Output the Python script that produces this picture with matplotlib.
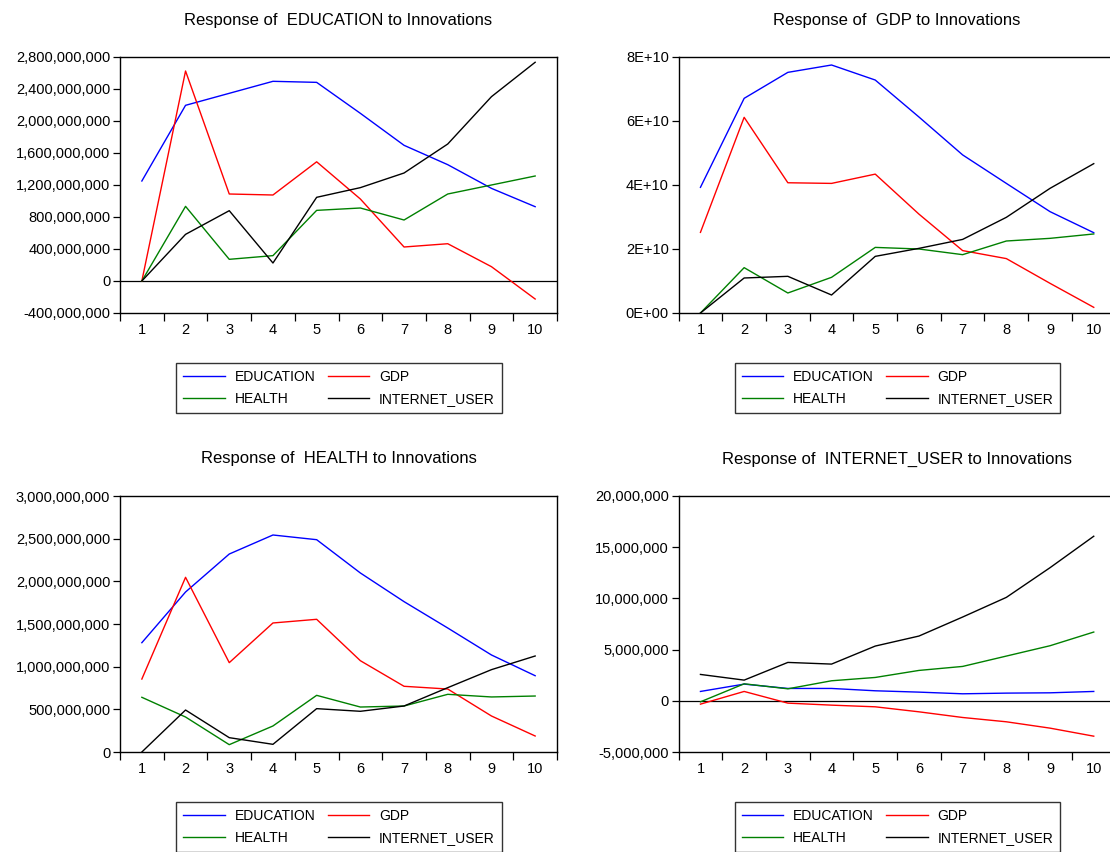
import matplotlib

matplotlib.use("Agg")
import matplotlib.pyplot as plt
from matplotlib.ticker import FixedLocator, FuncFormatter, MultipleLocator

plt.rcParams["font.family"] = ["Liberation Sans", "DejaVu Sans"]

periods = [1, 2, 3, 4, 5, 6, 7, 8, 9, 10]
shocks = ["EDUCATION", "GDP", "HEALTH", "INTERNET_USER"]

# Response of EDUCATION
edu_education = [1.25e9, 2.196e9, 2.346e9, 2.496e9, 2.483e9, 2.096e9, 1.696e9, 1.454e9, 1.158e9, 0.929e9]
edu_gdp = [0.0, 2.625e9, 1.0875e9, 1.075e9, 1.49e9, 1.025e9, 0.425e9, 0.466e9, 0.179e9, -0.225e9]
edu_health = [0.0, 0.933e9, 0.271e9, 0.317e9, 0.883e9, 0.9125e9, 0.7625e9, 1.0875e9, 1.2e9, 1.3125e9]
edu_internet = [0.0, 0.583e9, 0.879e9, 0.225e9, 1.046e9, 1.167e9, 1.35e9, 1.7125e9, 2.304e9, 2.734e9]

# Response of GDP
gdp_education = [3.927e10, 6.708e10, 7.52e10, 7.75e10, 7.28e10, 6.125e10, 4.94e10, 4.05e10, 3.167e10, 2.51e10]
gdp_gdp = [2.52e10, 6.115e10, 4.07e10, 4.05e10, 4.34e10, 3.09e10, 1.95e10, 1.70e10, 0.927e10, 0.177e10]
gdp_health = [0.0, 1.417e10, 0.625e10, 1.115e10, 2.05e10, 2.0e10, 1.823e10, 2.25e10, 2.333e10, 2.47e10]
gdp_internet = [0.0, 1.094e10, 1.146e10, 0.5625e10, 1.77e10, 2.02e10, 2.30e10, 2.99e10, 3.896e10, 4.667e10]

# Response of HEALTH
hea_education = [1.281e9, 1.875e9, 2.32e9, 2.543e9, 2.488e9, 2.098e9, 1.762e9, 1.453e9, 1.137e9, 0.894e9]
hea_gdp = [0.855e9, 2.047e9, 1.047e9, 1.512e9, 1.555e9, 1.07e9, 0.77e9, 0.738e9, 0.422e9, 0.1875e9]
hea_health = [0.641e9, 0.41e9, 0.086e9, 0.305e9, 0.664e9, 0.527e9, 0.539e9, 0.676e9, 0.645e9, 0.656e9]
hea_internet = [0.0, 0.492e9, 0.168e9, 0.09e9, 0.508e9, 0.477e9, 0.539e9, 0.754e9, 0.965e9, 1.125e9]

# Response of INTERNET_USER
int_education = [0.913e6, 1.63e6, 1.206e6, 1.206e6, 0.978e6, 0.847e6, 0.684e6, 0.75e6, 0.78e6, 0.913e6]
int_gdp = [-0.326e6, 0.913e6, -0.228e6, -0.424e6, -0.587e6, -1.076e6, -1.63e6, -2.05e6, -2.67e6, -3.455e6]
int_health = [-0.1e6, 1.66e6, 1.17e6, 1.956e6, 2.28e6, 2.966e6, 3.357e6, 4.368e6, 5.378e6, 6.714e6]
int_internet = [2.575e6, 2.02e6, 3.748e6, 3.585e6, 5.345e6, 6.323e6, 8.181e6, 10.1e6, 13.0e6, 16.07e6]

colors = ["#0000FF", "#FF0000", "#008000", "#000000"]

W, H = 1110, 852


def fx(px):
    return px / W


def fy(px):
    return 1 - px / H


comma = FuncFormatter(lambda v, _: f"{v:,.0f}")
sci = FuncFormatter(lambda v, _: "0E+00" if v == 0 else f"{v / 1e10:.0f}E+10")

panels = [
    # name, series, ylim, ystep, formatter, left px, top px, zero line
    ("EDUCATION", [edu_education, edu_gdp, edu_health, edu_internet],
     (-4e8, 2.8e9), 4e8, comma, 120, 57, True),
    ("GDP", [gdp_education, gdp_gdp, gdp_health, gdp_internet],
     (0, 8e10), 2e10, sci, 678.6, 57, False),
    ("HEALTH", [hea_education, hea_gdp, hea_health, hea_internet],
     (0, 3e9), 5e8, comma, 120, 496, False),
    ("INTERNET_USER", [int_education, int_gdp, int_health, int_internet],
     (-5e6, 2e7), 5e6, comma, 678.6, 496, True),
]

fig = plt.figure(figsize=(W / 100, H / 100), dpi=100)

ax_w, ax_h = 437, 256
for name, series, ylim, ystep, fmt, left, top, zero in panels:
    ax = fig.add_axes([fx(left), fy(top + ax_h), ax_w / W, ax_h / H])
    lines = []
    for vals, col in zip(series, colors):
        (ln,) = ax.plot(periods, vals, color=col, lw=1.0)
        lines.append(ln)
    if zero:
        ax.axhline(0, color="black", lw=0.9, zorder=0)

    ax.set_xlim(0.5, 10.5)
    ax.set_ylim(*ylim)
    ax.yaxis.set_major_locator(MultipleLocator(ystep))
    ax.yaxis.set_major_formatter(fmt)
    ax.xaxis.set_major_locator(FixedLocator(periods))
    ax.xaxis.set_minor_locator(FixedLocator([p - 0.5 for p in periods] + [10.5]))
    ax.tick_params(axis="x", which="major", length=0, pad=7, labelsize=10.5)
    ax.tick_params(axis="x", which="minor", length=6, width=0.9, direction="out")
    ax.tick_params(axis="y", length=5, width=0.9, direction="out", pad=2, labelsize=10.5)
    for sp in ax.spines.values():
        sp.set_linewidth(1.0)

    fig.text(fx(left + ax_w / 2), fy(top - 37), f"Response of  {name} to Innovations",
             ha="center", va="center", fontsize=12)

    # row 1: EDUCATION, GDP ; row 2: HEALTH, INTERNET_USER
    order = [0, 2, 1, 3]
    leg = fig.legend([lines[i] for i in order], [shocks[i] for i in order],
                     ncol=2, loc="upper center",
                     bbox_to_anchor=(fx(left + ax_w / 2 + 0.5), fy(top + 306)),
                     bbox_transform=fig.transFigure, fontsize=10, frameon=True,
                     fancybox=False, edgecolor="black", handlelength=3.0,
                     columnspacing=0.9, handletextpad=0.7, labelspacing=0.6,
                     borderpad=0.5, borderaxespad=0)
    leg.get_frame().set_linewidth(1.0)

fig.savefig("out.png", dpi=100)
